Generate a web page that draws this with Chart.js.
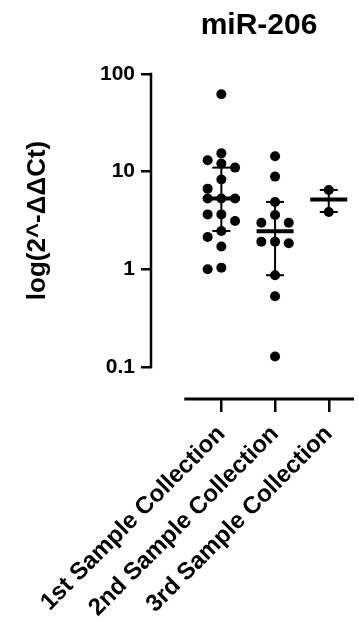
<!DOCTYPE html>
<html><head><meta charset="utf-8">
<script src="https://cdn.jsdelivr.net/npm/chart.js@4"></script>
<style>html,body{margin:0;padding:0;background:#fff;}canvas{display:block;}</style>
</head><body>
<canvas id="c" width="359" height="622"></canvas>
<script>
const categories = ['1st Sample Collection', '2nd Sample Collection', '3rd Sample Collection'];
const group1 = [62, 15.4, 13.1, 12.1, 11, 8.3, 6.7, 5.3, 5.3, 5.3, 3.65, 3.65, 3.12, 2.47, 2.14, 1.71, 1.04, 1.0];
const group2 = [14.4, 8.9, 4.9, 3.6, 3.0, 3.0, 1.92, 1.92, 1.85, 0.87, 0.53, 0.128];
const group3 = [6.5, 3.86];
const medians = [5.3, 2.46, 5.18];
const lowerQ = [2.47, 0.87, 3.86];
const upperQ = [11, 4.9, 6.5];
const yTicks = [0.1, 1, 10, 100];
const chartTitle = 'miR-206';
const yTitle = 'log(2^-ΔΔCt)';

const groups = [group1, group2, group3];
const FONT = "'Liberation Sans', Arial, sans-serif";
Chart.defaults.font.family = FONT;
Chart.defaults.color = '#000';

const POINT_R = 5;

const decor = {
  id: 'decor',
  beforeDatasetsDraw(chart) {
    const ctx = chart.ctx, xs = chart.scales.x, ys = chart.scales.y;
    ctx.save();
    ctx.strokeStyle = '#000';
    ctx.lineCap = 'butt';
    medians.forEach((m, i) => {
      const cx = xs.getPixelForValue(i + 1);
      const yl = ys.getPixelForValue(lowerQ[i]);
      const yu = ys.getPixelForValue(upperQ[i]);
      const ym = ys.getPixelForValue(m);
      ctx.lineWidth = 2;
      ctx.beginPath(); ctx.moveTo(cx, yl); ctx.lineTo(cx, yu); ctx.stroke();
      ctx.beginPath(); ctx.moveTo(cx - 9, yl); ctx.lineTo(cx + 9, yl); ctx.stroke();
      ctx.beginPath(); ctx.moveTo(cx - 9, yu); ctx.lineTo(cx + 9, yu); ctx.stroke();
      ctx.lineWidth = 4;
      ctx.beginPath(); ctx.moveTo(cx - 18.5, ym); ctx.lineTo(cx + 18.5, ym); ctx.stroke();
    });
    ctx.restore();
  },
  afterDraw(chart) {
    const ctx = chart.ctx, xs = chart.scales.x, ys = chart.scales.y, ca = chart.chartArea;
    ctx.save();
    ctx.strokeStyle = '#000';
    ctx.lineCap = 'butt';
    const yTop = ys.getPixelForValue(yTicks[yTicks.length - 1]);
    const yBot = ys.getPixelForValue(yTicks[0]);
    ctx.lineWidth = 2.5;
    ctx.beginPath(); ctx.moveTo(ca.left, yTop - 1.25); ctx.lineTo(ca.left, yBot + 1.25); ctx.stroke();
    ctx.lineWidth = 3;
    ctx.beginPath(); ctx.moveTo(xs.getPixelForValue(0.31), ca.bottom); ctx.lineTo(ca.right, ca.bottom); ctx.stroke();
    ctx.fillStyle = '#000';
    ctx.font = 'bold 30px ' + FONT;
    ctx.textAlign = 'center';
    ctx.textBaseline = 'alphabetic';
    ctx.fillText(chartTitle, xs.getPixelForValue(2) - 16, 34);
    ctx.font = 'bold 26px ' + FONT;
    ctx.translate(38, (yTop + yBot) / 2);
    ctx.rotate(-Math.PI / 2);
    ctx.textBaseline = 'middle';
    ctx.fillText(yTitle, 0, 0);
    ctx.restore();
  }
};

const noPad = s => { s.paddingLeft = 0; s.paddingRight = 0; s.paddingTop = 0; s.paddingBottom = 0; };

const chart = new Chart(document.getElementById('c'), {
  type: 'scatter',
  data: {
    datasets: groups.map((g, i) => ({
      data: g.map(v => ({ x: i + 1, y: v })),
      backgroundColor: '#000',
      borderWidth: 0,
      pointRadius: POINT_R,
      pointHoverRadius: POINT_R
    }))
  },
  options: {
    responsive: false,
    animation: false,
    layout: { padding: { top: 74, left: 0, right: 0, bottom: 0 } },
    plugins: { legend: { display: false }, tooltip: { enabled: false }, title: { display: false } },
    scales: {
      x: {
        type: 'linear', min: -0.31, max: 3.47,
        afterBuildTicks: s => { s.ticks = categories.map((c, i) => ({ value: i + 1 })); },
        afterFit: s => { s.height = 223; noPad(s); },
        ticks: {
          autoSkip: false, minRotation: 45, maxRotation: 45,
          font: { size: 24, weight: 'bold' }, color: '#000', padding: 8,
          callback: v => categories[v - 1]
        },
        grid: { display: true, drawOnChartArea: false, drawTicks: true, tickLength: 13, lineWidth: 2.5, color: '#000' },
        border: { display: false }
      },
      y: {
        type: 'logarithmic', min: 0.047, max: 100,
        afterBuildTicks: s => { s.ticks = yTicks.map(v => ({ value: v })); },
        afterFit: s => { s.width = 151; noPad(s); },
        ticks: { font: { size: 21, weight: 'bold' }, color: '#000', padding: 6, callback: v => String(v) },
        grid: { display: true, drawOnChartArea: false, drawTicks: true, tickLength: 10, lineWidth: 2.5, color: '#000' },
        border: { display: false }
      }
    }
  },
  plugins: [decor]
});

(function swarm() {
  const xs = chart.scales.x, ys = chart.scales.y;
  const step = 13.7, diam = POINT_R * 2 - 0.5;
  chart.data.datasets.forEach((ds, i) => {
    const cx = xs.getPixelForValue(i + 1);
    const placed = [];
    const order = ds.data.map((p, k) => k).sort((a, b) => ds.data[b].y - ds.data[a].y);
    order.forEach(k => {
      const py = ys.getPixelForValue(ds.data[k].y);
      const cands = [0];
      for (let n = 1; n < 6; n++) { cands.push(-n, n); }
      for (const c of cands) {
        const px = cx + c * step;
        if (placed.every(q => (q.x - px) ** 2 + (q.y - py) ** 2 >= diam * diam)) {
          placed.push({ x: px, y: py });
          ds.data[k].x = xs.getValueForPixel(px);
          break;
        }
      }
    });
  });
  chart.update('none');
})();
</script>
</body></html>
